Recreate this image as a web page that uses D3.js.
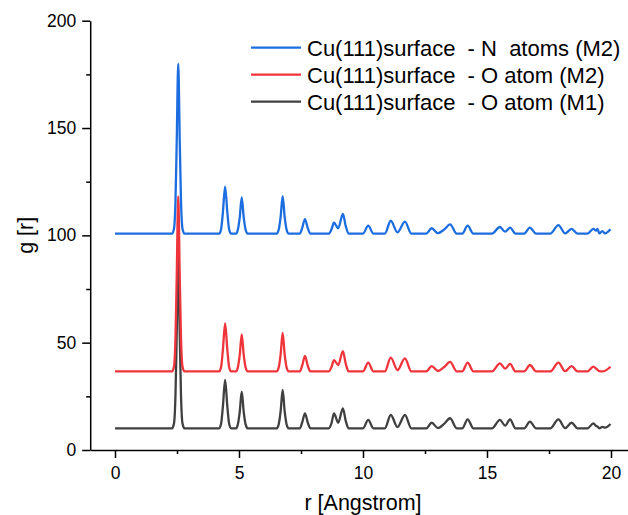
<!DOCTYPE html>
<html>
<head>
<meta charset="utf-8">
<script src="https://cdn.jsdelivr.net/npm/d3@7"></script>
<style>
  html, body { margin: 0; padding: 0; background: #fff; }
  svg { display: block; font-family: "Liberation Sans", Arial, sans-serif; }
  text { white-space: pre; }
</style>
</head>
<body>
<svg id="chart" width="628" height="515"></svg>
<script>
// Radial distance grid (Angstrom), shared by all three g(r) curves
const rGrid = [
  0, 2.30, 2.38, 2.44, 2.49, 2.55, 2.61, 2.66, 2.72, 2.80,
  4.20, 4.28, 4.35, 4.44, 4.53, 4.60, 4.68,
  4.88, 4.95, 5.03, 5.11, 5.19, 5.27, 5.35,
  6.52, 6.60, 6.68, 6.76, 6.84, 6.92, 7.00,
  7.45, 7.55, 7.66, 7.77, 7.88,
  8.62, 8.73, 8.83, 9.00, 9.19, 9.30, 9.42,
  10.00, 10.21, 10.42,
  10.88, 11.12, 11.39, 11.69, 11.95,
  12.55, 12.77, 13.02, 13.28, 13.51, 13.78,
  14.00, 14.22, 14.45,
  15.20, 15.52, 15.73, 15.93, 16.15,
  16.50, 16.73, 16.98,
  17.55, 17.88, 18.15, 18.41, 18.65,
  19.05, 19.29, 19.40, 19.45, 19.53, 19.65, 19.76, 19.98
];

// Cu(111) surface - N atoms (M2), offset curve
const gN_M2 = [
  100.8, 100.8, 103.2, 116.6, 144.4, 180.0, 144.4, 116.6, 103.2, 100.8,
  100.8, 103.0, 110.7, 122.7, 110.7, 103.0, 100.8,
  100.8, 102.5, 108.4, 117.7, 108.4, 102.5, 100.8,
  100.8, 102.6, 108.7, 118.3, 108.7, 102.6, 100.8,
  100.8, 103.5, 107.5, 103.5, 100.8,
  100.8, 102.8, 105.9, 103.3, 110.0, 104.5, 100.8,
  100.8, 104.5, 100.8,
  100.8, 106.8, 101.4, 106.4, 100.8,
  100.8, 103.3, 101.0, 102.8, 105.1, 100.8,
  100.8, 104.5, 100.8,
  100.8, 103.9, 101.7, 103.6, 100.8,
  100.8, 103.6, 100.8,
  100.8, 104.8, 100.9, 103.0, 100.8,
  100.8, 103.0, 102.2, 103.0, 100.9, 102.0, 100.9, 102.8
];

// Cu(111) surface - O atom (M2), offset curve
const gO_M2 = [
  36.6, 36.6, 39.0, 52.9, 81.4, 118.2, 81.4, 52.9, 39.0, 36.6,
  36.6, 38.8, 46.6, 59.0, 46.6, 38.8, 36.6,
  36.6, 38.3, 44.3, 53.9, 44.3, 38.3, 36.6,
  36.6, 38.4, 44.7, 54.6, 44.7, 38.4, 36.6,
  36.6, 39.4, 43.8, 39.4, 36.6,
  36.6, 38.7, 41.9, 39.6, 46.1, 40.4, 36.6,
  36.6, 40.7, 36.6,
  36.6, 43.0, 37.2, 42.7, 36.6,
  36.6, 39.1, 36.8, 38.7, 41.1, 36.6,
  36.6, 40.7, 36.6,
  36.6, 40.4, 37.9, 40.1, 36.6,
  36.6, 39.6, 36.6,
  36.6, 40.7, 36.7, 39.1, 36.6,
  36.6, 38.8, 37.9, 37.4, 36.7, 36.6, 36.9, 38.8
];

// Cu(111) surface - O atom (M1)
const gO_M1 = [
  10.1, 10.1, 12.5, 26.2, 54.5, 90.8, 54.5, 26.2, 12.5, 10.1,
  10.1, 12.4, 20.2, 32.6, 20.2, 12.4, 10.1,
  10.1, 11.8, 17.8, 27.2, 17.8, 11.8, 10.1,
  10.1, 11.9, 18.2, 28.0, 18.2, 11.9, 10.1,
  10.1, 12.9, 17.1, 12.9, 10.1,
  10.1, 12.5, 17.1, 12.7, 19.4, 13.8, 10.1,
  10.1, 14.0, 10.1,
  10.1, 16.3, 10.7, 16.3, 10.1,
  10.1, 12.7, 10.2, 12.3, 14.8, 10.1,
  10.1, 14.3, 10.1,
  10.1, 14.0, 11.4, 14.3, 10.1,
  10.1, 13.2, 10.1,
  10.1, 14.3, 10.2, 12.7, 10.1,
  10.1, 12.4, 11.2, 11.0, 10.1, 10.8, 10.4, 12.1
];

const seriesNames = [
  "Cu(111)surface  - N  atoms (M2)",
  "Cu(111)surface  - O atom (M2)",
  "Cu(111)surface  - O atom (M1)"
];
const seriesValues = [gN_M2, gO_M2, gO_M1];
const seriesColors = ["#1c6ee0", "#f0343c", "#404040"];

const xMajorTicks = [0, 5, 10, 15, 20];
const xMinorTicks = [2.5, 7.5, 12.5, 17.5];
const yMajorTicks = [0, 50, 100, 150, 200];
const yMinorTicks = [25, 75, 125, 175];

const svg = d3.select("#chart");

const x = d3.scaleLinear().domain([-1, 21]).range([90.2, 635.8]);
const y = d3.scaleLinear().domain([0, 200]).range([450, 20.7]);

// Axes
const axisColor = "#000";
const xAxisG = svg.append("g").attr("transform", `translate(0,${y(0)})`);
xAxisG.call(d3.axisBottom(x).tickValues(xMinorTicks).tickSize(4).tickSizeOuter(0).tickFormat(""));
xAxisG.call(g => g.select(".domain").remove());
const xMajor = svg.append("g").attr("transform", `translate(0,${y(0)})`)
  .call(d3.axisBottom(x).tickValues(xMajorTicks).tickSize(8).tickPadding(9).tickSizeOuter(0).tickFormat(d3.format("d")));

const yAxisG = svg.append("g").attr("transform", `translate(${x(-1)},0)`);
yAxisG.call(d3.axisLeft(y).tickValues(yMinorTicks).tickSize(4).tickSizeOuter(0).tickFormat(""));
yAxisG.call(g => g.select(".domain").remove());
const yMajor = svg.append("g").attr("transform", `translate(${x(-1)},0)`)
  .call(d3.axisLeft(y).tickValues(yMajorTicks).tickSize(8).tickPadding(6).tickSizeOuter(0).tickFormat(d3.format("d")));

svg.selectAll(".domain, .tick line").attr("stroke", axisColor).attr("stroke-width", 1.5);
[xMajor, yMajor].forEach(g => g.selectAll("text")
  .attr("fill", "#000").style("font-size", "17.5px").style("font-family", "'Liberation Sans', Arial, sans-serif"));

// Axis titles
svg.append("text")
  .attr("x", x(10)).attr("y", 510)
  .attr("text-anchor", "middle")
  .style("font-size", "21.5px")
  .text("r [Angstrom]");

svg.append("text")
  .attr("transform", `translate(33,${(y(0) + y(200)) / 2}) rotate(-90)`)
  .attr("text-anchor", "middle")
  .style("font-size", "21.5px")
  .text("g [r]");

// Curves (drawn bottom to top), smoothed through the sampled points
const line = d3.line()
  .x((d, i) => x(rGrid[i]))
  .y(d => y(d))
  .curve(d3.curveMonotoneX);

[2, 1, 0].forEach(k => {
  svg.append("path")
    .datum(seriesValues[k])
    .attr("d", line)
    .attr("fill", "none")
    .attr("stroke", seriesColors[k])
    .attr("stroke-width", 2.3)
    .attr("stroke-linejoin", "round");
});

// Legend
const legend = svg.append("g");
seriesNames.forEach((name, i) => {
  const cy = 47.7 + i * 27;
  legend.append("line")
    .attr("x1", 251).attr("x2", 301)
    .attr("y1", cy).attr("y2", cy)
    .attr("stroke", seriesColors[i]).attr("stroke-width", 2.3);
  legend.append("text")
    .attr("x", 307).attr("y", cy + 7.8)
    .style("font-size", "22px")
    .text(name);
});
</script>
</body>
</html>
